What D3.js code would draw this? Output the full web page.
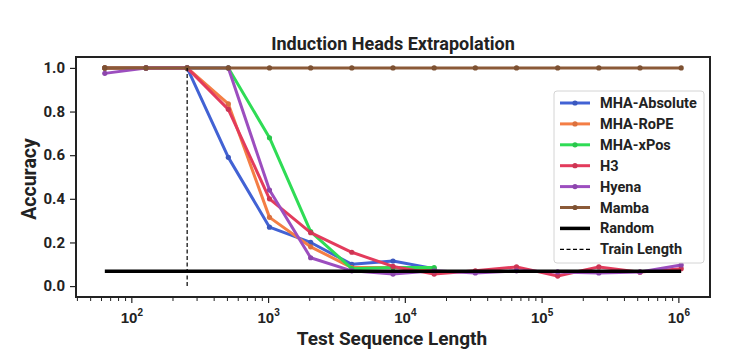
<!DOCTYPE html>
<html>
<head>
<meta charset="utf-8">
<script src="https://cdn.jsdelivr.net/npm/d3@7"></script>
<style>
  body { margin: 0; background: #fff; }
  svg { font-family: Roboto, "DejaVu Sans", sans-serif; }
</style>
</head>
<body>
<svg width="737" height="363"></svg>
<script>
// test sequence lengths (2^6 .. 2^20)
const lengths = [64, 128, 256, 512, 1024, 2048, 4096, 8192, 16384, 32768,
  65536, 131072, 262144, 524288, 1048576];

const mhaAbsolute = [1.0, 1.0, 1.0, 0.59, 0.27, 0.20, 0.10, 0.115, 0.08];
const mhaRope = [1.0, 1.0, 1.0, 0.835, 0.315, 0.18, 0.085, 0.085, 0.075];
const mhaXpos = [1.0, 1.0, 1.0, 1.0, 0.68, 0.25, 0.08, 0.085, 0.085];
const h3 = [1.0, 1.0, 1.0, 0.81, 0.40, 0.245, 0.155, 0.09, 0.055, 0.07, 0.088, 0.046, 0.088, 0.064, 0.08];
const hyena = [0.975, 1.0, 1.0, 1.0, 0.44, 0.13, 0.07, 0.055, 0.07, 0.06, 0.07, 0.065, 0.06, 0.065, 0.097];
const mamba = [1, 1, 1, 1, 1, 1, 1, 1, 1, 1, 1, 1, 1, 1, 1];

const randomAcc = 0.068;
const trainLength = 256;

const seriesNames = ['MHA-Absolute', 'MHA-RoPE', 'MHA-xPos', 'H3', 'Hyena', 'Mamba'];
const seriesValues = [mhaAbsolute, mhaRope, mhaXpos, h3, hyena, mamba];
const colors = ['#4262d4', '#f47e45', '#2fdc55', '#e33b5c', '#9c4ebf', '#8b5a38'];

const yTicks = [0.0, 0.2, 0.4, 0.6, 0.8, 1.0];
const xTicks = [1e2, 1e3, 1e4, 1e5, 1e6];

const plotLeft = 76, plotRight = 710, plotTop = 57, plotBottom = 297;

const svg = d3.select('svg');

// 5% margins in log space, like matplotlib
const lo = Math.log10(d3.min(lengths)), hi = Math.log10(d3.max(lengths));
const pad = (hi - lo) * 0.05;
const x = d3.scaleLog()
  .domain([Math.pow(10, lo - pad), Math.pow(10, hi + pad)])
  .range([plotLeft, plotRight]);
const y = d3.scaleLinear()
  .domain([-0.05, 1.05])
  .range([plotBottom, plotTop]);

// title
svg.append('text')
  .attr('x', (plotLeft + plotRight) / 2).attr('y', 50)
  .attr('text-anchor', 'middle')
  .attr('font-size', 18).attr('font-weight', 'bold').attr('fill', '#222')
  .text('Induction Heads Extrapolation');

// y axis
const yAxis = svg.append('g')
  .attr('transform', `translate(${plotLeft},0)`)
  .call(d3.axisLeft(y).tickValues(yTicks).tickFormat(d3.format('.1f')).tickSize(6).tickPadding(5));
yAxis.select('.domain').remove();
yAxis.selectAll('text').attr('font-size', 15).attr('font-weight', 'bold').attr('fill', '#222')
  .attr('font-family', 'Roboto');
yAxis.selectAll('line').attr('stroke', '#222').attr('stroke-width', 1.2);

// x axis minor ticks
const minor = [];
for (let e = 1; e <= 6; e++) {
  for (let m = 2; m <= 9; m++) {
    const v = m * Math.pow(10, e);
    if (v >= x.domain()[0] && v <= x.domain()[1]) minor.push(v);
  }
}
const xMinor = svg.append('g')
  .attr('transform', `translate(0,${plotBottom})`)
  .call(d3.axisBottom(x).tickValues(minor).tickFormat('').tickSize(4));
xMinor.select('.domain').remove();
xMinor.selectAll('line').attr('stroke', '#222').attr('stroke-width', 1);

const xAxis = svg.append('g')
  .attr('transform', `translate(0,${plotBottom})`)
  .call(d3.axisBottom(x).tickValues(xTicks).tickFormat('').tickSize(6));
xAxis.select('.domain').remove();
xAxis.selectAll('line').attr('stroke', '#222').attr('stroke-width', 1.2);
xAxis.selectAll('.tick').each(function (d) {
  const t = d3.select(this).append('text')
    .attr('y', 26).attr('text-anchor', 'middle')
    .attr('font-size', 15).attr('font-weight', 'bold').attr('fill', '#222');
  t.append('tspan').text('10');
  t.append('tspan').attr('dy', -7).attr('font-size', 10).text(Math.round(Math.log10(d)));
});

// axis labels
svg.append('text')
  .attr('x', (plotLeft + plotRight) / 2 - 1).attr('y', 345)
  .attr('text-anchor', 'middle')
  .attr('font-size', 19).attr('font-weight', 'bold').attr('fill', '#222')
  .text('Test Sequence Length');
svg.append('text')
  .attr('transform', `translate(36,${(plotTop + plotBottom) / 2 + 2}) rotate(-90)`)
  .attr('text-anchor', 'middle')
  .attr('font-size', 19.5).attr('font-weight', 'bold').attr('fill', '#222')
  .text('Accuracy');

// series
const line = d3.line()
  .x((d, i) => x(lengths[i]))
  .y(d => y(d));

seriesValues.forEach((vals, k) => {
  svg.append('path')
    .datum(vals)
    .attr('d', line)
    .attr('fill', 'none')
    .attr('stroke', colors[k])
    .attr('stroke-width', 3)
    .attr('stroke-linejoin', 'round');
  svg.selectAll(null)
    .data(vals)
    .enter()
    .append('circle')
    .attr('cx', (d, i) => x(lengths[i]))
    .attr('cy', d => y(d))
    .attr('r', 2.6)
    .attr('fill', d3.color(colors[k]).darker(0.3));
});

// random baseline
svg.append('line')
  .attr('x1', x(d3.min(lengths))).attr('x2', x(d3.max(lengths)))
  .attr('y1', y(randomAcc)).attr('y2', y(randomAcc))
  .attr('stroke', '#000').attr('stroke-width', 3.5);

// train length
svg.append('line')
  .attr('x1', x(trainLength)).attr('x2', x(trainLength))
  .attr('y1', y(0)).attr('y2', y(1))
  .attr('stroke', '#000').attr('stroke-width', 1.2)
  .attr('stroke-dasharray', '4,2.5');

// frame
svg.append('rect')
  .attr('x', plotLeft).attr('y', plotTop)
  .attr('width', plotRight - plotLeft).attr('height', plotBottom - plotTop)
  .attr('fill', 'none').attr('stroke', '#222').attr('stroke-width', 2);

// legend
const legend = svg.append('g').attr('transform', 'translate(554,91)');
legend.append('rect')
  .attr('width', 150).attr('height', 172)
  .attr('rx', 3)
  .attr('fill', 'rgba(255,255,255,0.85)')
  .attr('stroke', '#d4d4d4').attr('stroke-width', 1);

const legendItems = seriesNames.map((n, k) => ({ name: n, color: colors[k], kind: 'series' }))
  .concat([{ name: 'Random', color: '#000', kind: 'random' },
           { name: 'Train Length', color: '#000', kind: 'train' }]);

const li = legend.selectAll('g.item')
  .data(legendItems)
  .enter()
  .append('g')
  .attr('class', 'item')
  .attr('transform', (d, i) => `translate(0,${12 + i * 20.9})`);

li.append('line')
  .attr('x1', 6).attr('x2', 36)
  .attr('stroke', d => d.color)
  .attr('stroke-width', d => d.kind === 'random' ? 3.5 : d.kind === 'train' ? 1.2 : 3)
  .attr('stroke-dasharray', d => d.kind === 'train' ? '4,2.5' : null);
li.filter(d => d.kind === 'series')
  .append('circle')
  .attr('cx', 21).attr('r', 2.6)
  .attr('fill', d => d3.color(d.color).darker(0.3));
li.append('text')
  .attr('x', 46).attr('dy', '0.35em')
  .attr('font-size', 14.5).attr('font-weight', 'bold').attr('fill', '#222')
  .text(d => d.name);
</script>
</body>
</html>
